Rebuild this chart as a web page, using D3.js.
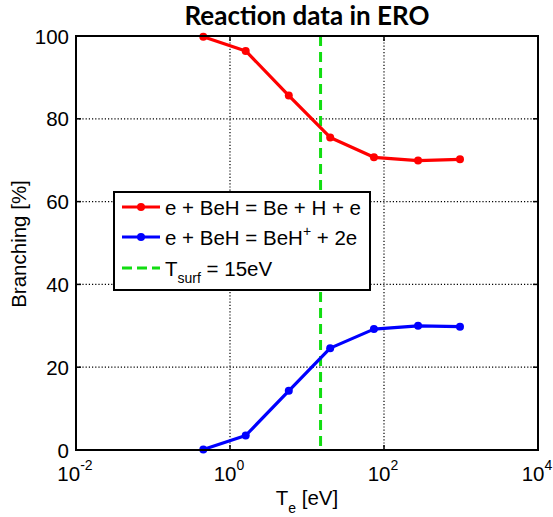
<!DOCTYPE html>
<html><head><meta charset="utf-8">
<script src="https://cdn.jsdelivr.net/npm/d3@7"></script>
<style>body{margin:0;background:#fff}svg{display:block}</style>
</head><body>
<svg id="c" width="553" height="517"></svg>
<script>
const te = [0.45, 1.6, 5.8, 20, 74, 277, 970];
const dissociation = [99.8, 96.4, 85.6, 75.5, 70.7, 69.9, 70.2];
const ionization = [0.1, 3.5, 14.3, 24.6, 29.2, 30.0, 29.8];
const tSurf = 15;
const xTickExps = [-2, 0, 2, 4];
const yTicks = [0, 20, 40, 60, 80, 100];

const svg = d3.select("#c");
const L = 76, R = 538, T = 36, B = 450;
const x = d3.scaleLog().domain([1e-2, 1e4]).range([L, R]);
const y = d3.scaleLinear().domain([0, 100]).range([B, T]);
const font = "Arial, 'Liberation Sans', Arimo, Helvetica, sans-serif";

// grid
const g = svg.append("g");
xTickExps.filter(e => e > -2 && e < 4).forEach(e => {
  g.append("line").attr("x1", x(Math.pow(10, e))).attr("x2", x(Math.pow(10, e)))
    .attr("y1", T).attr("y2", B).attr("stroke", "#000").attr("stroke-width", 1.2)
    .attr("stroke-dasharray", "1.2,2");
});
yTicks.filter(v => v > 0 && v < 100).forEach(v => {
  g.append("line").attr("x1", L).attr("x2", R).attr("y1", y(v)).attr("y2", y(v))
    .attr("stroke", "#000").attr("stroke-width", 1.2).attr("stroke-dasharray", "1.2,2");
});

// ticks inward
xTickExps.forEach(e => {
  const xx = x(Math.pow(10, e));
  g.append("line").attr("x1", xx).attr("x2", xx).attr("y1", B).attr("y2", B - 5).attr("stroke", "#000").attr("stroke-width", 1.5);
  g.append("line").attr("x1", xx).attr("x2", xx).attr("y1", T).attr("y2", T + 5).attr("stroke", "#000").attr("stroke-width", 1.5);
});
yTicks.forEach(v => {
  g.append("line").attr("x1", L).attr("x2", L + 5).attr("y1", y(v)).attr("y2", y(v)).attr("stroke", "#000").attr("stroke-width", 1.5);
  g.append("line").attr("x1", R).attr("x2", R - 5).attr("y1", y(v)).attr("y2", y(v)).attr("stroke", "#000").attr("stroke-width", 1.5);
});

// vertical T_surf line
svg.append("line").attr("x1", x(tSurf)).attr("x2", x(tSurf)).attr("y1", T).attr("y2", B)
  .attr("stroke", "#11dd11").attr("stroke-width", 3).attr("stroke-dasharray", "10,6");

// series
const line = d3.line().x(d => x(d[0])).y(d => y(d[1]));
function series(vals, color) {
  const pts = te.map((t, i) => [t, vals[i]]);
  svg.append("path").datum(pts).attr("d", line).attr("fill", "none")
    .attr("stroke", color).attr("stroke-width", 3.2).attr("stroke-linejoin", "round");
  svg.selectAll(null).data(pts).enter().append("circle")
    .attr("cx", d => x(d[0])).attr("cy", d => y(d[1])).attr("r", 4).attr("fill", color);
}
series(dissociation, "#ff0000");
series(ionization, "#0000ff");

// box
svg.append("rect").attr("x", L).attr("y", T).attr("width", R - L).attr("height", B - T)
  .attr("fill", "none").attr("stroke", "#000").attr("stroke-width", 2);

// tick labels
yTicks.forEach(v => {
  svg.append("text").attr("x", 69).attr("y", y(v) + 7.5).attr("text-anchor", "end")
    .attr("font-family", font).attr("font-size", 20.5).attr("fill", "#000").text(v);
});
xTickExps.forEach(e => {
  const t = svg.append("text").attr("x", x(Math.pow(10, e)) - 1).attr("y", 481).attr("text-anchor", "middle")
    .attr("font-family", font).attr("font-size", 20.5).attr("fill", "#000");
  t.append("tspan").text("10");
  t.append("tspan").attr("dy", -11).attr("font-size", 14).text(e);
});

// axis labels
const xl = svg.append("text").attr("x", 307).attr("y", 505).attr("text-anchor", "middle")
  .attr("font-family", font).attr("font-size", 20.5).attr("fill", "#000");
xl.append("tspan").text("T");
xl.append("tspan").attr("dy", 8).attr("font-size", 14).text("e");
xl.append("tspan").attr("dy", -8).text(" [eV]");

svg.append("text").attr("transform", "translate(26,244) rotate(-90)").attr("text-anchor", "middle")
  .attr("font-family", font).attr("font-size", 20.5).attr("fill", "#000").text("Branching [%]");

// title
svg.append("text").attr("x", 307).attr("y", 25).attr("text-anchor", "middle")
  .attr("font-family", "Lato, 'Open Sans', sans-serif").attr("font-weight", "bold")
  .attr("font-size", 26).attr("fill", "#000").text("Reaction data in ERO");

// legend
const lg = svg.append("g");
lg.append("rect").attr("x", 114).attr("y", 192).attr("width", 256).attr("height", 98)
  .attr("fill", "#fff").attr("stroke", "#000").attr("stroke-width", 2);
const rows = [207, 237, 268];
[["#ff0000", false], ["#0000ff", false], ["#11dd11", true]].forEach(([c, dash], i) => {
  lg.append("line").attr("x1", 122).attr("x2", 160).attr("y1", rows[i]).attr("y2", rows[i])
    .attr("stroke", c).attr("stroke-width", 3.2).attr("stroke-dasharray", dash ? "10,5" : null);
  if (!dash) lg.append("circle").attr("cx", 141).attr("cy", rows[i]).attr("r", 4).attr("fill", c);
});
const t1 = lg.append("text").attr("x", 165).attr("y", rows[0] + 7.5).attr("font-family", font).attr("font-size", 20.5).text("e + BeH = Be + H + e");
const t2 = lg.append("text").attr("x", 165).attr("y", rows[1] + 7.5).attr("font-family", font).attr("font-size", 20.5);
t2.append("tspan").text("e + BeH = BeH");
t2.append("tspan").attr("dy", -9).attr("font-size", 14).text("+");
t2.append("tspan").attr("dy", 9).text(" + 2e");
const t3 = lg.append("text").attr("x", 165).attr("y", rows[2] + 7.5).attr("font-family", font).attr("font-size", 20.5);
t3.append("tspan").text("T");
t3.append("tspan").attr("dy", 7).attr("font-size", 14).text("surf");
t3.append("tspan").attr("dy", -7).text(" = 15eV");
</script>
</body></html>
